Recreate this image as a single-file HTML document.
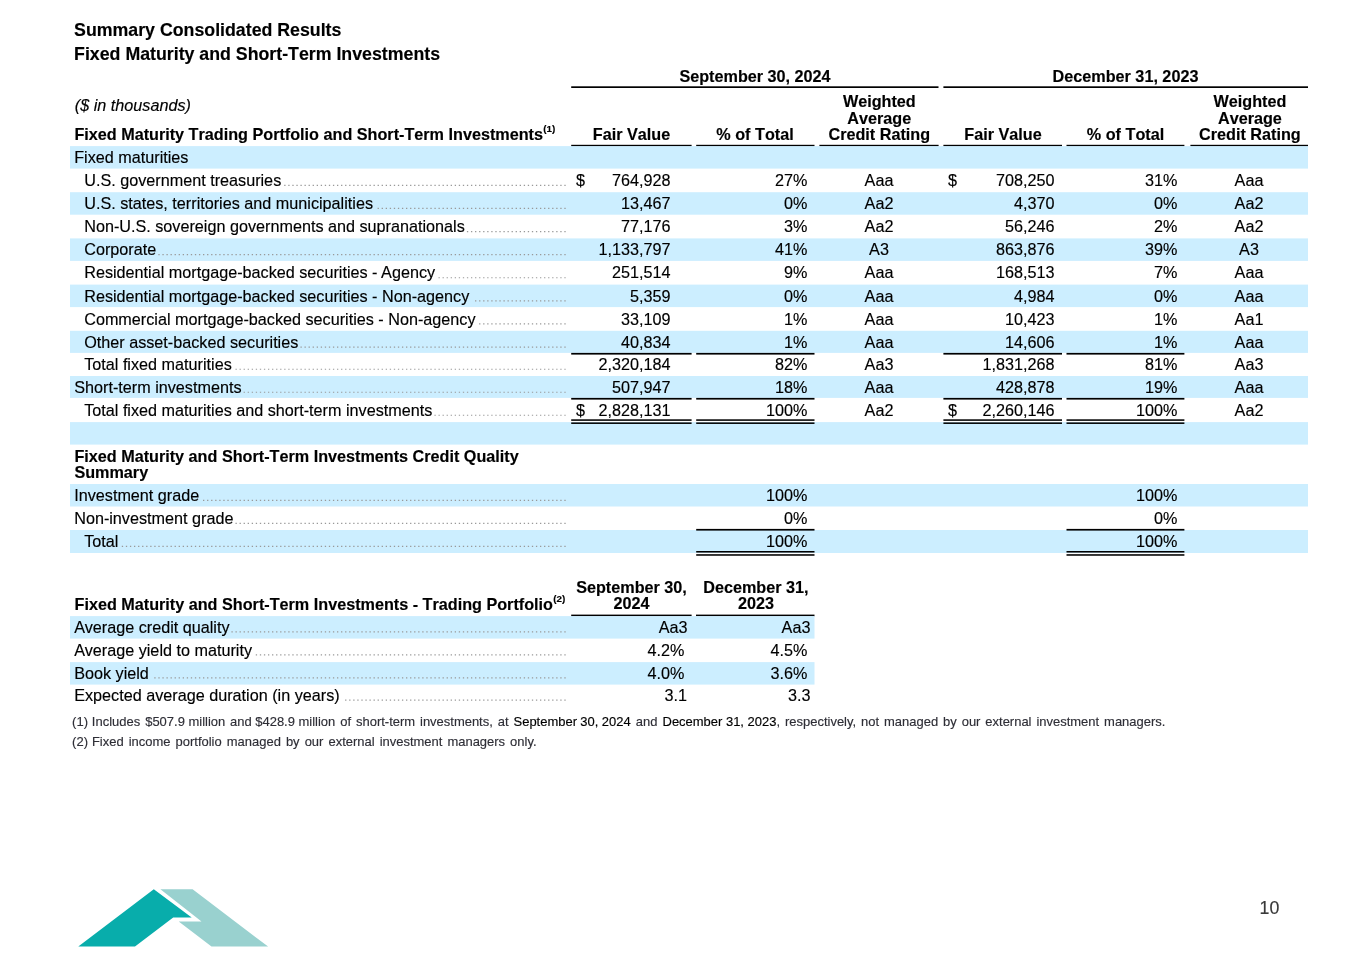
<!DOCTYPE html>
<html lang="en">
<head>
<meta charset="utf-8">
<title>Summary Consolidated Results</title>
<style>
html,body{margin:0;padding:0;background:#fff}
body{width:1365px;height:966px;position:relative;overflow:hidden;font-family:"Liberation Sans",Arial,Helvetica,sans-serif;color:#000}
.t{position:absolute;white-space:nowrap;line-height:20px;-webkit-text-stroke:0.15px currentColor}
.b{font-weight:bold;font-kerning:none}
.i{font-style:italic}
.k{color:#000}
.sup{font-size:9.9px;position:relative;top:-7.4px;left:0.3px;line-height:0}
.bg{position:absolute;left:0;top:0}
.dl{stroke:#999;stroke-width:1.2;stroke-dasharray:1.3 2.76;fill:none}
</style>
</head>
<body>
<svg class="bg" width="1365" height="966" viewBox="0 0 1365 966">
<rect x="571.2" y="86.3" width="367.3" height="1.7" fill="#000"/>
<rect x="943.4" y="86.3" width="364.6" height="1.7" fill="#000"/>
<rect x="571.2" y="144.8" width="120.4" height="1.75" fill="#000"/>
<rect x="696.2" y="144.8" width="118.3" height="1.75" fill="#000"/>
<rect x="819.4" y="144.8" width="119.2" height="1.75" fill="#000"/>
<rect x="943.4" y="144.8" width="118.6" height="1.75" fill="#000"/>
<rect x="1066.5" y="144.8" width="117.9" height="1.75" fill="#000"/>
<rect x="1190.4" y="144.8" width="117.6" height="1.75" fill="#000"/>
<rect x="70" y="146.1" width="1238" height="22.5" fill="#cceeff"/>
<line x1="565.65" y1="185.35" x2="284.20" y2="185.35" class="dl"/>
<rect x="70" y="192.2" width="1238" height="22.5" fill="#cceeff"/>
<line x1="565.65" y1="208.45" x2="377.58" y2="208.45" class="dl"/>
<line x1="565.65" y1="231.55" x2="466.90" y2="231.55" class="dl"/>
<rect x="70" y="238.4" width="1238" height="22.5" fill="#cceeff"/>
<line x1="565.65" y1="254.65" x2="158.34" y2="254.65" class="dl"/>
<line x1="565.65" y1="277.75" x2="438.48" y2="277.75" class="dl"/>
<rect x="70" y="284.6" width="1238" height="22.5" fill="#cceeff"/>
<line x1="565.65" y1="300.85" x2="475.02" y2="300.85" class="dl"/>
<line x1="565.65" y1="323.95" x2="479.08" y2="323.95" class="dl"/>
<rect x="70" y="330.8" width="1238" height="22.1" fill="#cceeff"/>
<line x1="565.65" y1="347.05" x2="300.44" y2="347.05" class="dl"/>
<line x1="565.65" y1="369.25" x2="235.48" y2="369.25" class="dl"/>
<rect x="70" y="376" width="1238" height="21.9" fill="#cceeff"/>
<line x1="565.65" y1="392.25" x2="243.60" y2="392.25" class="dl"/>
<line x1="565.65" y1="415.25" x2="434.42" y2="415.25" class="dl"/>
<rect x="70" y="422.1" width="1238" height="22.5" fill="#cceeff"/>
<rect x="571.2" y="352.9" width="120.4" height="1.7" fill="#000"/>
<rect x="696.2" y="352.9" width="118.3" height="1.7" fill="#000"/>
<rect x="943.4" y="352.9" width="118.6" height="1.7" fill="#000"/>
<rect x="1066.5" y="352.9" width="117.9" height="1.7" fill="#000"/>
<rect x="571.2" y="397.9" width="120.4" height="1.7" fill="#000"/>
<rect x="696.2" y="397.9" width="118.3" height="1.7" fill="#000"/>
<rect x="943.4" y="397.9" width="118.6" height="1.7" fill="#000"/>
<rect x="1066.5" y="397.9" width="117.9" height="1.7" fill="#000"/>
<rect x="571.2" y="419.3" width="120.4" height="1.55" fill="#000"/>
<rect x="571.2" y="422.4" width="120.4" height="1.55" fill="#000"/>
<rect x="696.2" y="419.3" width="118.3" height="1.55" fill="#000"/>
<rect x="696.2" y="422.4" width="118.3" height="1.55" fill="#000"/>
<rect x="943.4" y="419.3" width="118.6" height="1.55" fill="#000"/>
<rect x="943.4" y="422.4" width="118.6" height="1.55" fill="#000"/>
<rect x="1066.5" y="419.3" width="117.9" height="1.55" fill="#000"/>
<rect x="1066.5" y="422.4" width="117.9" height="1.55" fill="#000"/>
<rect x="70" y="484" width="1238" height="22.5" fill="#cceeff"/>
<line x1="565.65" y1="500.45" x2="203.00" y2="500.45" class="dl"/>
<line x1="565.65" y1="523.45" x2="235.48" y2="523.45" class="dl"/>
<rect x="70" y="530" width="1238" height="23" fill="#cceeff"/>
<line x1="565.65" y1="546.45" x2="121.80" y2="546.45" class="dl"/>
<rect x="696.2" y="528.9" width="118.3" height="1.7" fill="#000"/>
<rect x="696.2" y="551" width="118.3" height="1.55" fill="#000"/>
<rect x="696.2" y="554.2" width="118.3" height="1.55" fill="#000"/>
<rect x="1066.5" y="528.9" width="117.9" height="1.7" fill="#000"/>
<rect x="1066.5" y="551" width="117.9" height="1.55" fill="#000"/>
<rect x="1066.5" y="554.2" width="117.9" height="1.55" fill="#000"/>
<rect x="571.2" y="614.6" width="120.4" height="1.7" fill="#000"/>
<rect x="696" y="614.6" width="118.5" height="1.7" fill="#000"/>
<rect x="70" y="616.1" width="744.5" height="22.5" fill="#cceeff"/>
<line x1="565.65" y1="631.95" x2="231.42" y2="631.95" class="dl"/>
<line x1="565.65" y1="654.95" x2="255.78" y2="654.95" class="dl"/>
<rect x="70" y="662.1" width="744.5" height="22.5" fill="#cceeff"/>
<line x1="565.65" y1="677.95" x2="154.28" y2="677.95" class="dl"/>
<line x1="565.65" y1="700.15" x2="345.10" y2="700.15" class="dl"/>
<polygon points="78.3,946.6 135,946.6 173.2,917.4 191.7,917.4 153.8,889.2" fill="#08adab"/>
<polygon points="160.4,889.2 192.6,889.2 268.1,946.6 211.5,946.6 178.7,921.4 201.5,921.4" fill="#99d1cf"/>
</svg>
<div class="t b" style="top:19.85px;font-size:17.75px;left:74.1px;">Summary Consolidated Results</div>
<div class="t b" style="top:43.85px;font-size:17.75px;left:74.1px;">Fixed Maturity and Short-Term Investments</div>
<div class="t b" style="top:66.38px;font-size:16.21px;left:555px;width:400px;text-align:center;">September 30, 2024</div>
<div class="t b" style="top:66.38px;font-size:16.21px;left:925.5px;width:400px;text-align:center;">December 31, 2023</div>
<div class="t i" style="top:95.38px;font-size:16.21px;left:74.8px;">($ in thousands)</div>
<div class="t b" style="top:124.38px;font-size:16.21px;left:74.4px;">Fixed Maturity Trading Portfolio and Short-Term Investments<span class="sup" style="top:-8.4px">(1)</span></div>
<div class="t b" style="top:124.38px;font-size:16.21px;left:431.5px;width:400px;text-align:center;">Fair Value</div>
<div class="t b" style="top:124.38px;font-size:16.21px;left:555px;width:400px;text-align:center;">% of Total</div>
<div class="t b" style="top:91.38px;font-size:16.21px;left:679.3px;width:400px;text-align:center;">Weighted</div>
<div class="t b" style="top:107.88px;font-size:16.21px;left:679.3px;width:400px;text-align:center;">Average</div>
<div class="t b" style="top:124.38px;font-size:16.21px;left:679.3px;width:400px;text-align:center;">Credit Rating</div>
<div class="t b" style="top:124.38px;font-size:16.21px;left:803px;width:400px;text-align:center;">Fair Value</div>
<div class="t b" style="top:124.38px;font-size:16.21px;left:925.5px;width:400px;text-align:center;">% of Total</div>
<div class="t b" style="top:91.38px;font-size:16.21px;left:1049.9px;width:400px;text-align:center;">Weighted</div>
<div class="t b" style="top:107.88px;font-size:16.21px;left:1049.9px;width:400px;text-align:center;">Average</div>
<div class="t b" style="top:124.38px;font-size:16.21px;left:1049.9px;width:400px;text-align:center;">Credit Rating</div>
<div class="t " style="top:147.38px;font-size:16.21px;left:74.2px;">Fixed maturities</div>
<div class="t " style="top:170.38px;font-size:16.21px;left:84.2px;">U.S. government treasuries</div>
<div class="t " style="top:170.38px;font-size:16.21px;left:576px;">$</div>
<div class="t " style="top:170.38px;font-size:16.21px;left:270.5px;width:400px;text-align:right;">764,928</div>
<div class="t " style="top:170.38px;font-size:16.21px;left:407.5px;width:400px;text-align:right;">27%</div>
<div class="t " style="top:170.38px;font-size:16.21px;left:679px;width:400px;text-align:center;">Aaa</div>
<div class="t " style="top:170.38px;font-size:16.21px;left:948px;">$</div>
<div class="t " style="top:170.38px;font-size:16.21px;left:654.5px;width:400px;text-align:right;">708,250</div>
<div class="t " style="top:170.38px;font-size:16.21px;left:777.5px;width:400px;text-align:right;">31%</div>
<div class="t " style="top:170.38px;font-size:16.21px;left:1049px;width:400px;text-align:center;">Aaa</div>
<div class="t " style="top:193.38px;font-size:16.21px;left:84.2px;">U.S. states, territories and municipalities</div>
<div class="t " style="top:193.38px;font-size:16.21px;left:270.5px;width:400px;text-align:right;">13,467</div>
<div class="t " style="top:193.38px;font-size:16.21px;left:407.5px;width:400px;text-align:right;">0%</div>
<div class="t " style="top:193.38px;font-size:16.21px;left:679px;width:400px;text-align:center;">Aa2</div>
<div class="t " style="top:193.38px;font-size:16.21px;left:654.5px;width:400px;text-align:right;">4,370</div>
<div class="t " style="top:193.38px;font-size:16.21px;left:777.5px;width:400px;text-align:right;">0%</div>
<div class="t " style="top:193.38px;font-size:16.21px;left:1049px;width:400px;text-align:center;">Aa2</div>
<div class="t " style="top:216.38px;font-size:16.21px;left:84.2px;">Non-U.S. sovereign governments and supranationals</div>
<div class="t " style="top:216.38px;font-size:16.21px;left:270.5px;width:400px;text-align:right;">77,176</div>
<div class="t " style="top:216.38px;font-size:16.21px;left:407.5px;width:400px;text-align:right;">3%</div>
<div class="t " style="top:216.38px;font-size:16.21px;left:679px;width:400px;text-align:center;">Aa2</div>
<div class="t " style="top:216.38px;font-size:16.21px;left:654.5px;width:400px;text-align:right;">56,246</div>
<div class="t " style="top:216.38px;font-size:16.21px;left:777.5px;width:400px;text-align:right;">2%</div>
<div class="t " style="top:216.38px;font-size:16.21px;left:1049px;width:400px;text-align:center;">Aa2</div>
<div class="t " style="top:239.38px;font-size:16.21px;left:84.2px;">Corporate</div>
<div class="t " style="top:239.38px;font-size:16.21px;left:270.5px;width:400px;text-align:right;">1,133,797</div>
<div class="t " style="top:239.38px;font-size:16.21px;left:407.5px;width:400px;text-align:right;">41%</div>
<div class="t " style="top:239.38px;font-size:16.21px;left:679px;width:400px;text-align:center;">A3</div>
<div class="t " style="top:239.38px;font-size:16.21px;left:654.5px;width:400px;text-align:right;">863,876</div>
<div class="t " style="top:239.38px;font-size:16.21px;left:777.5px;width:400px;text-align:right;">39%</div>
<div class="t " style="top:239.38px;font-size:16.21px;left:1049px;width:400px;text-align:center;">A3</div>
<div class="t " style="top:262.38px;font-size:16.21px;left:84.2px;">Residential mortgage-backed securities - Agency</div>
<div class="t " style="top:262.38px;font-size:16.21px;left:270.5px;width:400px;text-align:right;">251,514</div>
<div class="t " style="top:262.38px;font-size:16.21px;left:407.5px;width:400px;text-align:right;">9%</div>
<div class="t " style="top:262.38px;font-size:16.21px;left:679px;width:400px;text-align:center;">Aaa</div>
<div class="t " style="top:262.38px;font-size:16.21px;left:654.5px;width:400px;text-align:right;">168,513</div>
<div class="t " style="top:262.38px;font-size:16.21px;left:777.5px;width:400px;text-align:right;">7%</div>
<div class="t " style="top:262.38px;font-size:16.21px;left:1049px;width:400px;text-align:center;">Aaa</div>
<div class="t " style="top:286.38px;font-size:16.21px;left:84.2px;">Residential mortgage-backed securities - Non-agency</div>
<div class="t " style="top:286.38px;font-size:16.21px;left:270.5px;width:400px;text-align:right;">5,359</div>
<div class="t " style="top:286.38px;font-size:16.21px;left:407.5px;width:400px;text-align:right;">0%</div>
<div class="t " style="top:286.38px;font-size:16.21px;left:679px;width:400px;text-align:center;">Aaa</div>
<div class="t " style="top:286.38px;font-size:16.21px;left:654.5px;width:400px;text-align:right;">4,984</div>
<div class="t " style="top:286.38px;font-size:16.21px;left:777.5px;width:400px;text-align:right;">0%</div>
<div class="t " style="top:286.38px;font-size:16.21px;left:1049px;width:400px;text-align:center;">Aaa</div>
<div class="t " style="top:309.38px;font-size:16.21px;left:84.2px;">Commercial mortgage-backed securities - Non-agency</div>
<div class="t " style="top:309.38px;font-size:16.21px;left:270.5px;width:400px;text-align:right;">33,109</div>
<div class="t " style="top:309.38px;font-size:16.21px;left:407.5px;width:400px;text-align:right;">1%</div>
<div class="t " style="top:309.38px;font-size:16.21px;left:679px;width:400px;text-align:center;">Aaa</div>
<div class="t " style="top:309.38px;font-size:16.21px;left:654.5px;width:400px;text-align:right;">10,423</div>
<div class="t " style="top:309.38px;font-size:16.21px;left:777.5px;width:400px;text-align:right;">1%</div>
<div class="t " style="top:309.38px;font-size:16.21px;left:1049px;width:400px;text-align:center;">Aa1</div>
<div class="t " style="top:332.38px;font-size:16.21px;left:84.2px;">Other asset-backed securities</div>
<div class="t " style="top:332.38px;font-size:16.21px;left:270.5px;width:400px;text-align:right;">40,834</div>
<div class="t " style="top:332.38px;font-size:16.21px;left:407.5px;width:400px;text-align:right;">1%</div>
<div class="t " style="top:332.38px;font-size:16.21px;left:679px;width:400px;text-align:center;">Aaa</div>
<div class="t " style="top:332.38px;font-size:16.21px;left:654.5px;width:400px;text-align:right;">14,606</div>
<div class="t " style="top:332.38px;font-size:16.21px;left:777.5px;width:400px;text-align:right;">1%</div>
<div class="t " style="top:332.38px;font-size:16.21px;left:1049px;width:400px;text-align:center;">Aaa</div>
<div class="t " style="top:354.38px;font-size:16.21px;left:84.2px;">Total fixed maturities</div>
<div class="t " style="top:354.38px;font-size:16.21px;left:270.5px;width:400px;text-align:right;">2,320,184</div>
<div class="t " style="top:354.38px;font-size:16.21px;left:407.5px;width:400px;text-align:right;">82%</div>
<div class="t " style="top:354.38px;font-size:16.21px;left:679px;width:400px;text-align:center;">Aa3</div>
<div class="t " style="top:354.38px;font-size:16.21px;left:654.5px;width:400px;text-align:right;">1,831,268</div>
<div class="t " style="top:354.38px;font-size:16.21px;left:777.5px;width:400px;text-align:right;">81%</div>
<div class="t " style="top:354.38px;font-size:16.21px;left:1049px;width:400px;text-align:center;">Aa3</div>
<div class="t " style="top:377.38px;font-size:16.21px;left:74.2px;">Short-term investments</div>
<div class="t " style="top:377.38px;font-size:16.21px;left:270.5px;width:400px;text-align:right;">507,947</div>
<div class="t " style="top:377.38px;font-size:16.21px;left:407.5px;width:400px;text-align:right;">18%</div>
<div class="t " style="top:377.38px;font-size:16.21px;left:679px;width:400px;text-align:center;">Aaa</div>
<div class="t " style="top:377.38px;font-size:16.21px;left:654.5px;width:400px;text-align:right;">428,878</div>
<div class="t " style="top:377.38px;font-size:16.21px;left:777.5px;width:400px;text-align:right;">19%</div>
<div class="t " style="top:377.38px;font-size:16.21px;left:1049px;width:400px;text-align:center;">Aaa</div>
<div class="t " style="top:400.38px;font-size:16.21px;left:84.2px;">Total fixed maturities and short-term investments</div>
<div class="t " style="top:400.38px;font-size:16.21px;left:576px;">$</div>
<div class="t " style="top:400.38px;font-size:16.21px;left:270.5px;width:400px;text-align:right;">2,828,131</div>
<div class="t " style="top:400.38px;font-size:16.21px;left:407.5px;width:400px;text-align:right;">100%</div>
<div class="t " style="top:400.38px;font-size:16.21px;left:679px;width:400px;text-align:center;">Aa2</div>
<div class="t " style="top:400.38px;font-size:16.21px;left:948px;">$</div>
<div class="t " style="top:400.38px;font-size:16.21px;left:654.5px;width:400px;text-align:right;">2,260,146</div>
<div class="t " style="top:400.38px;font-size:16.21px;left:777.5px;width:400px;text-align:right;">100%</div>
<div class="t " style="top:400.38px;font-size:16.21px;left:1049px;width:400px;text-align:center;">Aa2</div>
<div class="t b" style="top:445.88px;font-size:16.21px;left:74.4px;">Fixed Maturity and Short-Term Investments Credit Quality</div>
<div class="t b" style="top:462.38px;font-size:16.21px;left:74.4px;">Summary</div>
<div class="t " style="top:485.38px;font-size:16.21px;left:74.2px;">Investment grade</div>
<div class="t " style="top:485.38px;font-size:16.21px;left:407.5px;width:400px;text-align:right;">100%</div>
<div class="t " style="top:485.38px;font-size:16.21px;left:777.5px;width:400px;text-align:right;">100%</div>
<div class="t " style="top:508.38px;font-size:16.21px;left:74.2px;">Non-investment grade</div>
<div class="t " style="top:508.38px;font-size:16.21px;left:407.5px;width:400px;text-align:right;">0%</div>
<div class="t " style="top:508.38px;font-size:16.21px;left:777.5px;width:400px;text-align:right;">0%</div>
<div class="t " style="top:531.38px;font-size:16.21px;left:84.2px;">Total</div>
<div class="t " style="top:531.38px;font-size:16.21px;left:407.5px;width:400px;text-align:right;">100%</div>
<div class="t " style="top:531.38px;font-size:16.21px;left:777.5px;width:400px;text-align:right;">100%</div>
<div class="t b" style="top:594.38px;font-size:16.21px;left:74.5px;">Fixed Maturity and Short-Term Investments - Trading Portfolio<span class="sup" style="top:-8.3px">(2)</span></div>
<div class="t b" style="top:577.38px;font-size:16.21px;left:431.5px;width:400px;text-align:center;">September 30,</div>
<div class="t b" style="top:593.38px;font-size:16.21px;left:431.5px;width:400px;text-align:center;">2024</div>
<div class="t b" style="top:577.38px;font-size:16.21px;left:555.9px;width:400px;text-align:center;">December 31,</div>
<div class="t b" style="top:593.38px;font-size:16.21px;left:555.9px;width:400px;text-align:center;">2023</div>
<div class="t " style="top:617.38px;font-size:16.21px;left:74.2px;">Average credit quality</div>
<div class="t " style="top:617.38px;font-size:16.21px;left:287.5px;width:400px;text-align:right;">Aa3</div>
<div class="t " style="top:617.38px;font-size:16.21px;left:410.4px;width:400px;text-align:right;">Aa3</div>
<div class="t " style="top:640.38px;font-size:16.21px;left:74.2px;">Average yield to maturity</div>
<div class="t " style="top:640.38px;font-size:16.21px;left:284.5px;width:400px;text-align:right;">4.2%</div>
<div class="t " style="top:640.38px;font-size:16.21px;left:407.5px;width:400px;text-align:right;">4.5%</div>
<div class="t " style="top:663.38px;font-size:16.21px;left:74.2px;">Book yield</div>
<div class="t " style="top:663.38px;font-size:16.21px;left:284.5px;width:400px;text-align:right;">4.0%</div>
<div class="t " style="top:663.38px;font-size:16.21px;left:407.5px;width:400px;text-align:right;">3.6%</div>
<div class="t " style="top:685.38px;font-size:16.21px;left:74.2px;">Expected average duration (in years)</div>
<div class="t " style="top:685.38px;font-size:16.21px;left:287px;width:400px;text-align:right;">3.1</div>
<div class="t " style="top:685.38px;font-size:16.21px;left:410.5px;width:400px;text-align:right;">3.3</div>
<div class="t " style="top:711.51px;font-size:12.97px;left:72.1px;color:#2e2e36;"><span style="word-spacing:0.3px">(1) </span><span style="word-spacing:1.4px">Includes </span><span style="word-spacing:0px">$507.9 </span><span style="word-spacing:1.2px">million </span><span style="word-spacing:0px">and $428.9 </span><span style="word-spacing:1.34px">million of short-term investments, at </span><span class="k" style="word-spacing:-0.2px">September 30, 2024</span><span style="word-spacing:1.5px"> and </span><span class="k" style="word-spacing:0px">December 31, 2023</span><span style="word-spacing:1.34px">, respectively, not managed by our external investment managers.</span></div>
<div class="t " style="top:731.51px;font-size:12.97px;left:72.1px;color:#2e2e36;"><span style="word-spacing:0.4px">(2) </span><span style="word-spacing:1.45px">Fixed income portfolio managed by our external investment managers only.</span></div>
<div class="t " style="top:897.83px;font-size:17.8px;left:1259.5px;color:#3a3a3a;">10</div>
</body>
</html>
